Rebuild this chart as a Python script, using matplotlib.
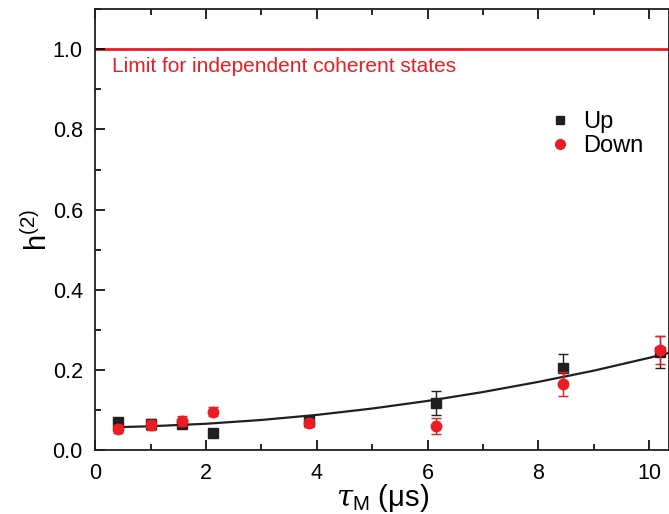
import matplotlib
matplotlib.use("Agg")
import matplotlib.pyplot as plt
from matplotlib.ticker import MultipleLocator, FormatStrFormatter
from matplotlib.lines import Line2D

plt.rcParams['font.family'] = ['Liberation Sans', 'DejaVu Sans']
plt.rcParams['mathtext.fontset'] = 'custom'
plt.rcParams['mathtext.rm'] = 'Liberation Sans'
plt.rcParams['mathtext.it'] = 'DejaVu Serif:italic'

# Data
tau = [0.41, 1.0, 1.57, 2.12, 3.85, 6.15, 8.45, 10.2]
up_vals = [0.070, 0.065, 0.066, 0.042, 0.073, 0.117, 0.205, 0.245]
up_err = [0.010, 0.012, 0.012, 0.008, 0.012, 0.030, 0.035, 0.040]
down_vals = [0.053, 0.063, 0.073, 0.096, 0.068, 0.060, 0.165, 0.250]
down_err = [0.010, 0.012, 0.012, 0.012, 0.010, 0.020, 0.030, 0.035]

fit_x = [0.4, 1, 2, 3, 4, 5, 6, 7, 8, 9, 10, 10.35]
fit_y = [0.057, 0.0593, 0.0655, 0.0750, 0.0876, 0.1035, 0.1225, 0.1447, 0.170, 0.198, 0.230, 0.242]

limit_value = 1.0
limit_label = "Limit for independent coherent states"

BLACK = '#231f20'
RED = '#ed1c24'

fig = plt.figure(figsize=(6.69, 5.14), dpi=100)
ax = fig.add_axes([0.1425, 0.1245, 0.8575, 0.8575])

ax.axhline(limit_value, color=RED, lw=2.0, zorder=1)
ax.text(0.3, 0.956, limit_label, color=RED, fontsize=15, va='center', ha='left')

ax.plot(fit_x, fit_y, color=BLACK, lw=1.6, zorder=2)

ax.errorbar(tau, up_vals, yerr=up_err, fmt='s', color=BLACK, ms=6.5,
            ecolor=BLACK, elinewidth=1.0, capsize=3.5, capthick=1.0, zorder=3)
ax.errorbar(tau, down_vals, yerr=down_err, fmt='o', color=RED, ms=7.5,
            ecolor=RED, elinewidth=1.0, capsize=3.5, capthick=1.0, zorder=4)

ax.set_xlim(0, 10.36)
ax.set_ylim(0, 1.1)
ax.xaxis.set_major_locator(MultipleLocator(2))
ax.xaxis.set_minor_locator(MultipleLocator(1))
ax.yaxis.set_major_locator(MultipleLocator(0.2))
ax.yaxis.set_minor_locator(MultipleLocator(0.1))
ax.yaxis.set_major_formatter(FormatStrFormatter('%.1f'))
ax.tick_params(which='both', direction='in', top=True, right=False, width=1.2, labelsize=15.5)
ax.tick_params(which='major', length=7)
ax.tick_params(which='minor', length=4)
ax.tick_params(axis='y', pad=9)
ax.tick_params(axis='x', pad=9)
for s in ax.spines.values():
    s.set_linewidth(1.3)
    s.set_color(BLACK)

ax.set_xlabel(r'$\tau_{\mathrm{M}}$ (μs)', fontsize=21, labelpad=-1)
ax.set_ylabel(r'h$^{(2)}$', fontsize=21, labelpad=0)

handles = [Line2D([], [], ls='none', marker='s', color=BLACK, ms=6),
           Line2D([], [], ls='none', marker='o', color=RED, ms=7)]
ax.legend(handles, ['Up', 'Down'], loc='upper left', bbox_to_anchor=(0.79, 0.769),
          frameon=False, fontsize=17, handletextpad=0.45, labelspacing=0.1,
          handlelength=1.0, borderpad=0, borderaxespad=0)

fig.savefig('out.png', dpi=100)
